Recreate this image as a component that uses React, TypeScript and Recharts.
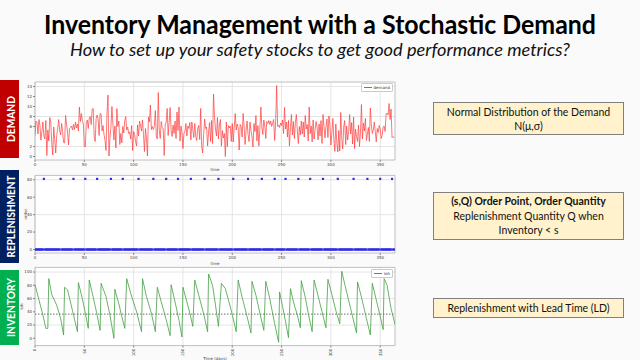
import { LineChart, Line, ScatterChart, Scatter, XAxis, YAxis, CartesianGrid, ReferenceLine, ReferenceArea, Legend, Label } from 'recharts';

// daily demand (days 0..364)
const demand: number[] = [
  4.2, 7.1, 6.8, 4.5, 7.4, 6.2, 3.3, 5.0, 6.9, 4.1,
  3.5, 7.2, 0.2, 5.3, 3.1, 7.8, 6.9, 2.7, 0.3, 5.9,
  3.4, 0.7, 4.2, 5.6, 7.4, 5.1, 4.3, 6.6, 5.0, 2.8,
  2.7, 8.2, 6.4, 4.9, 2.3, 5.6, 5.8, 6.1, 5.3, 6.4,
  5.4, 6.9, 5.7, 6.5, 5.1, 9.9, 7.0, 8.6, 7.2, 6.5,
  2.1, 1.9, 6.8, 7.3, 5.6, 7.7, 8.0, 6.4, 9.5, 9.6,
  4.0, 3.0, 7.6, 8.3, 7.5, 4.2, 8.6, 8.5, 5.1, 6.2,
  4.4, 3.2, 1.2, 8.7, 12.3, 0.1, 3.8, 5.9, 10.0, 6.4,
  3.3, 6.1, 1.7, 9.6, 6.0, 7.1, 2.4, 4.6, 2.7, 6.0,
  4.7, 7.2, 8.0, 5.3, 5.9, 4.6, 4.9, 3.5, 6.2, 1.2,
  5.0, 4.4, 3.0, 2.1, 6.3, 4.1, 7.1, 6.1, 5.1, 7.3,
  4.4, 1.0, 5.6, 3.7, 0.1, 7.9, 6.9, 10.3, 5.4, 6.0,
  5.4, 6.0, 9.2, 4.1, 3.5, 12.8, 5.1, 3.6, 7.0, 5.8,
  5.5, 0.2, 6.3, 6.9, 9.6, 4.2, 6.8, 9.8, 5.2, 4.0,
  6.3, 4.6, 7.1, 3.6, 8.9, 5.2, 9.9, 3.1, 6.1, 4.9,
  1.6, 4.6, 5.0, 6.6, 4.1, 6.1, 5.6, 6.8, 3.3, 6.9,
  5.4, 3.8, 6.6, 4.0, 3.2, 5.7, 6.2, 3.4, 9.6, 2.0,
  0.7, 4.4, 7.5, 5.6, 5.9, 2.1, 4.9, 6.8, 3.0, 7.2,
  2.6, 12.5, 7.9, 5.5, 4.1, 7.8, 3.5, 6.3, 7.4, 2.1,
  5.2, 3.7, 4.6, 0.0, 6.9, 2.0, 6.2, 5.7, 6.1, 3.0,
  6.6, 2.9, 5.9, 8.6, 5.3, 6.5, 5.8, 1.3, 6.4, 6.0,
  3.9, 8.6, 6.1, 2.4, 5.2, 7.1, 4.5, 3.0, 6.9, 5.1,
  4.0, 1.9, 6.6, 5.0, 8.2, 3.1, 6.2, 2.1, 5.5, 9.9,
  5.9, 4.4, 7.3, 6.1, 3.6, 7.0, 6.6, 7.2, 6.4, 7.1,
  6.0, 6.8, 7.4, 3.2, 6.9, 14.2, 6.0, 6.3, 5.8, 6.7,
  6.2, 7.3, 4.6, 9.8, 5.5, 6.9, 3.9, 7.2, 2.1, 5.8,
  8.4, 4.3, 7.0, 3.6, 6.8, 8.4, 5.1, 2.6, 6.0, 4.3,
  7.1, 4.5, 6.9, 3.9, 8.2, 5.5, 6.4, 3.1, 9.9, 4.6,
  6.1, 2.9, 7.3, 3.5, 5.4, 7.0, 5.8, 3.3, 6.5, 4.1,
  7.2, 2.6, 8.4, 6.0, 3.7, 5.9, 7.5, 3.8, 8.1, 6.3,
  2.3, 4.8, 7.6, 3.4, 1.0, 6.5, 2.8, 0.9, 5.2, 1.1,
  8.8, 3.6, 1.5, 5.9, 7.2, 2.4, 6.1, 3.3, 5.0, 8.4,
  4.5, 6.8, 2.5, 7.9, 1.6, 5.5, 4.0, 3.0, 6.3, 2.0,
  4.9, 10.4, 3.5, 6.7, 5.1, 7.6, 3.2, 4.4, 5.8, 3.0,
  9.7, 6.4, 4.6, 5.3, 6.9, 5.0, 2.9, 5.6, 4.8, 6.2,
  5.5, 3.6, 4.2, 5.9, 6.1, 5.0, 8.5, 8.7, 8.3, 10.6,
  7.4, 9.5, 3.8, 4.0, 3.7,
];

// replenishment orders (s,Q)
const orderDays = [9, 26, 39, 51, 63, 77, 89, 105, 120, 133, 145, 158, 172, 186, 201, 216, 230, 243, 254, 267, 279, 292, 307, 323, 337, 350, 362];
const orderQty = 81;

// inventory on hand, key points of the sawtooth
const invDays = [
  0, 4, 8, 11, 13,
  14, 17, 22, 26, 29,
  30, 33, 38, 43,
  44, 48, 51, 54,
  55, 59, 63, 66,
  67, 72, 76, 80,
  81, 85, 88, 91,
  93, 97, 103, 108,
  109, 113, 118, 122,
  124, 128, 133, 137,
  138, 142, 146, 149,
  150, 154, 157, 160,
  162, 166, 171, 175,
  176, 180, 183, 186,
  189, 193, 199, 204,
  206, 210, 215, 219,
  220, 224, 228, 232,
  234, 238, 243, 247,
  248, 251, 254, 257,
  259, 262, 266, 269,
  270, 274, 277, 281,
  283, 287, 291, 295,
  297, 301, 305, 309,
  311, 314, 320, 326,
  327, 331, 336, 340,
  342, 346, 350, 353,
  354, 357, 361, 365,
];
const invLevels = [
  81, 58, 35, 15, 15,
  90, 66, 50, 30, 5,
  77, 73, 42, 10,
  84, 60, 38, 15,
  88, 62, 35, 12,
  83, 63, 35, 0,
  74, 52, 33, 15,
  90, 68, 40, 10,
  90, 63, 38, 10,
  77, 55, 28, 4,
  81, 55, 27, 2,
  77, 55, 38, 18,
  88, 65, 37, 10,
  97, 80, 50, 18,
  83, 75, 42, 10,
  88, 62, 33, 8,
  86, 65, 38, 12,
  86, 60, 22, -6,
  70, 48, 25, 1,
  75, 55, 35, 16,
  87, 62, 38, 10,
  88, 64, 40, 16,
  89, 66, 42, 22,
  101, 82, 45, 8,
  85, 62, 30, 5,
  83, 58, 33, 13,
  90, 80, 45, 21,
];
const reorderPoint = 36.5;

const timeTicks = [0, 50, 100, 150, 200, 250, 300, 350];
const demandTicks = [0, 2, 4, 6, 8, 10, 12, 14];
const orderTicks = [0, 20, 40, 60, 80];
const iohTicks = [0, 20, 40, 60, 80, 100];

const demandData = demand.map((v, i) => ({ day: i, demand: v }));
const orderData = demand.map((_, i) => ({ day: i, order: orderDays.includes(i) ? orderQty : 0 }));
const invData = invDays.map((d, i) => ({ day: d, ioh: invLevels[i] }));

const tickFont = { fontSize: 4, fill: '#444', fontFamily: 'DejaVu Sans' };
const gridColor = '#dedede';
const frameColor = '#b0b0b0';

const legendBox = (color: string, text: string) => () => (
  <div style={{ display: 'flex', alignItems: 'center', background: '#fff', border: '0.5px solid #ccc', borderRadius: 1, padding: '1px 2px', fontFamily: 'DejaVu Sans', fontSize: 4, color: '#333' }}>
    <span style={{ display: 'inline-block', width: 8, height: 0, borderTop: `1px solid ${color}`, marginRight: 2 }} />
    {text}
  </div>
);

const RotatedTick = (props: any) => {
  const { x, y, payload } = props;
  return (
    <text x={x} y={y} transform={`rotate(-90, ${x}, ${y})`} textAnchor="end" dominantBaseline="central" {...tickFont}>
      {payload.value}
    </text>
  );
};

const Dot = (props: any) => (
  <rect x={props.cx - 1.1} y={props.cy - 1.1} width={2.2} height={2.2} fill="#2f2fe6" />
);

const sideLabel = (text: string, color: string, y: number, h: number, len: number) => (
  <g>
    <rect x={0} y={y} width={19} height={h} fill={color} />
    <text x={10} y={y + h / 2} transform={`rotate(-90, 10, ${y + h / 2})`} textAnchor="middle" dominantBaseline="central"
      fill="#fff" fontFamily="Lato" fontWeight={700} fontSize={11} textLength={len} lengthAdjust="spacingAndGlyphs">
      {text}
    </text>
  </g>
);

const noteBox = { position: 'absolute' as const, left: 433, width: 191, background: '#FFF2CC', border: '1px solid #808080', boxSizing: 'border-box' as const, fontFamily: 'Lato', fontSize: 10.5, color: '#111', textAlign: 'center' as const, display: 'flex', flexDirection: 'column' as const, justifyContent: 'center' };

export default function App() {
  return (
    <div style={{ position: 'absolute', left: 0, top: 0, width: 640, height: 360, background: '#fafafa', overflow: 'hidden' }}>
      <svg width={640} height={62} style={{ position: 'absolute', left: 0, top: 0 }}>
        <text x={320} y={34} textAnchor="middle" fontFamily="Lato" fontWeight={700} fontSize={26} fill="#000" textLength={552} lengthAdjust="spacingAndGlyphs">
          Inventory Management with a Stochastic Demand
        </text>
        <text x={320} y={56} textAnchor="middle" fontFamily="Lato" fontStyle="italic" fontSize={18} fill="#111" textLength={500} lengthAdjust="spacingAndGlyphs">
          How to set up your safety stocks to get good performance metrics?
        </text>
      </svg>

      <svg width={22} height={360} style={{ position: 'absolute', left: 0, top: 0 }}>
        {sideLabel('DEMAND', '#C00000', 80, 78, 46)}
        {sideLabel('REPLENISHMENT', '#002060', 170, 93, 82)}
        {sideLabel('INVENTORY', '#00B050', 270, 75, 59)}
      </svg>

      <div style={{ position: 'absolute', left: 12, top: 74 }}>
        <LineChart width={390} height={97} data={demandData} margin={{ top: 8, right: 7, bottom: 0, left: 0 }}>
          <CartesianGrid stroke={gridColor} strokeWidth={0.8} fill="#fff" horizontalValues={demandTicks} verticalValues={timeTicks} />
          <XAxis type="number" dataKey="day" domain={[0, 365]} ticks={timeTicks} allowDataOverflow height={11}
            tick={tickFont} tickSize={2} tickMargin={1} axisLine={false} tickLine={{ stroke: '#888' }}>
            <Label value="time" position="insideBottom" offset={0} style={tickFont} />
          </XAxis>
          <YAxis type="number" domain={[-0.7, 14.9]} ticks={demandTicks} allowDataOverflow width={23}
            tick={tickFont} tickSize={2} tickMargin={1} axisLine={false} tickLine={{ stroke: '#888' }} />
          <ReferenceArea x1={0} x2={365} y1={-0.7} y2={14.9} fill="none" stroke={frameColor} strokeWidth={0.8} />
          <Line type="linear" dataKey="demand" stroke="#ff3b3b" strokeWidth={0.7} dot={false} isAnimationActive={false} />
          <Legend layout="horizontal" verticalAlign="middle" content={legendBox('#ff3b3b', 'demand')}
            wrapperStyle={{ top: 9, right: 9, left: 'auto', width: 'auto', height: 'auto' }} />
        </LineChart>
      </div>

      <div style={{ position: 'absolute', left: 12, top: 168 }}>
        <ScatterChart width={390} height={97} margin={{ top: 7.4, right: 7, bottom: 0, left: 0 }}>
          <CartesianGrid stroke={gridColor} strokeWidth={0.8} fill="#fff" horizontalValues={orderTicks} verticalValues={timeTicks} />
          <XAxis type="number" dataKey="day" domain={[0, 365]} ticks={timeTicks} allowDataOverflow height={12}
            tick={tickFont} tickSize={2} tickMargin={1} axisLine={false} tickLine={{ stroke: '#888' }}>
            <Label value="time" position="insideBottom" offset={0} style={tickFont} />
          </XAxis>
          <YAxis type="number" dataKey="order" domain={[-4, 85]} ticks={orderTicks} allowDataOverflow width={23}
            tick={tickFont} tickSize={2} tickMargin={1} axisLine={false} tickLine={{ stroke: '#888' }}>
            <Label value="order" angle={-90} position="insideLeft" offset={14} style={{ ...tickFont, textAnchor: 'middle' }} />
          </YAxis>
          <ReferenceArea x1={0} x2={365} y1={-4} y2={85} fill="none" stroke={frameColor} strokeWidth={0.8} />
          <Scatter data={orderData} dataKey="order" shape={Dot} isAnimationActive={false} />
        </ScatterChart>
      </div>

      <div style={{ position: 'absolute', left: 12, top: 260 }}>
        <LineChart width={390} height={100} data={invData} margin={{ top: 7.4, right: 7, bottom: 0, left: 0 }}>
          <CartesianGrid stroke={gridColor} strokeWidth={0.8} fill="#fff" horizontalValues={iohTicks} verticalValues={timeTicks} />
          <XAxis type="number" dataKey="day" domain={[0, 365]} ticks={timeTicks} allowDataOverflow height={14.4}
            tick={<RotatedTick />} tickSize={2} tickMargin={1} axisLine={false} tickLine={{ stroke: '#888' }}>
            <Label value="Time (days)" position="insideBottom" offset={0} style={tickFont} />
          </XAxis>
          <YAxis type="number" domain={[-11, 107]} ticks={iohTicks} allowDataOverflow width={23}
            tick={tickFont} tickSize={2} tickMargin={1} axisLine={false} tickLine={{ stroke: '#888' }}>
            <Label value="ioh" angle={-90} position="insideLeft" offset={10} style={{ ...tickFont, textAnchor: 'middle' }} />
          </YAxis>
          <ReferenceArea x1={0} x2={365} y1={-11} y2={107} fill="none" stroke={frameColor} strokeWidth={0.8} />
          <ReferenceLine y={reorderPoint} stroke="#8a8a8a" strokeWidth={1.4} strokeDasharray="1.5 1.5" />
          <Line type="linear" dataKey="ioh" stroke="#43a043" strokeWidth={0.8} dot={false} isAnimationActive={false} />
          <Legend layout="horizontal" verticalAlign="middle" content={legendBox('#43a043', 'ioh')}
            wrapperStyle={{ top: 9, right: 9, left: 'auto', width: 'auto', height: 'auto' }} />
        </LineChart>
      </div>

      <div style={{ ...noteBox, top: 102, height: 33, lineHeight: '14px' }}>
        <div>Normal Distribution of the Demand</div>
        <div>N(μ,σ)</div>
      </div>
      <div style={{ ...noteBox, top: 192, height: 48, lineHeight: '14.8px' }}>
        <div style={{ fontWeight: 700 }}>(s,Q) Order Point, Order Quantity</div>
        <div>Replenishment Quantity Q when</div>
        <div>Inventory &lt; s</div>
      </div>
      <div style={{ ...noteBox, top: 298, height: 20 }}>
        <div>Replenishment with Lead Time (LD)</div>
      </div>
    </div>
  );
}
